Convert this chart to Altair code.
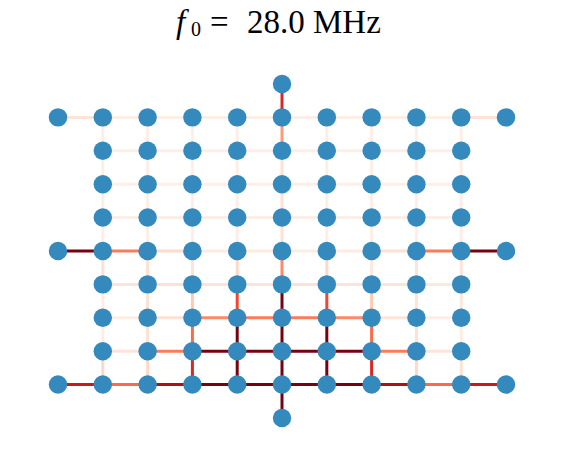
import altair as alt
import pandas as pd

# Grid nodes: (col, row)
full_rows = [1, 5, 9]
inner_rows = [2, 3, 4, 6, 7, 8]
cols_full = list(range(0, 11))
cols_inner = list(range(1, 10))
extra_nodes = [(5, 0), (5, 10)]

# Horizontal edge weights per row (left to right)
h_weights = {
    1: [0.10, 0.04, 0.04, 0.04, 0.04, 0.04, 0.04, 0.04, 0.04, 0.10],
    2: [0.04, 0.04, 0.04, 0.04, 0.04, 0.04, 0.04, 0.04],
    3: [0.04, 0.04, 0.04, 0.04, 0.04, 0.04, 0.04, 0.04],
    4: [0.04, 0.04, 0.04, 0.04, 0.04, 0.04, 0.04, 0.04],
    5: [0.97, 0.45, 0.14, 0.06, 0.06, 0.05, 0.06, 0.12, 0.45, 0.97],
    6: [0.10, 0.12, 0.10, 0.10, 0.12, 0.10, 0.10, 0.08],
    7: [0.05, 0.12, 0.40, 0.45, 0.45, 0.40, 0.10, 0.05],
    8: [0.10, 0.45, 0.97, 0.97, 0.97, 0.97, 0.45, 0.10],
    9: [0.75, 0.50, 0.85, 0.97, 0.97, 0.97, 0.97, 0.85, 0.50, 0.75],
}
# Vertical edge weights: key = upper row, values for cols 1..9
v_weights = {
    1: [0.04, 0.04, 0.04, 0.04, 0.35, 0.04, 0.04, 0.04, 0.04],
    2: [0.04, 0.04, 0.04, 0.04, 0.12, 0.04, 0.04, 0.04, 0.04],
    3: [0.04, 0.04, 0.04, 0.04, 0.12, 0.04, 0.04, 0.04, 0.04],
    4: [0.04, 0.04, 0.04, 0.04, 0.12, 0.04, 0.04, 0.04, 0.04],
    5: [0.12, 0.12, 0.10, 0.15, 0.40, 0.15, 0.08, 0.10, 0.10],
    6: [0.05, 0.12, 0.20, 0.60, 0.97, 0.60, 0.20, 0.10, 0.08],
    7: [0.05, 0.12, 0.50, 0.97, 0.97, 0.97, 0.50, 0.12, 0.05],
    8: [0.15, 0.15, 0.70, 0.97, 0.97, 0.97, 0.70, 0.15, 0.12],
}
stub_weights = {(0, 1): 0.70, (9, 10): 0.97}  # column 5 stubs

reds_stops = [0, 0.125, 0.25, 0.375, 0.5, 0.625, 0.75, 0.875, 1.0]
reds_colors = ["#fff5f0", "#fee0d2", "#fcbba1", "#fc9272", "#fb6a4a",
               "#ef3b2c", "#cb181d", "#a50f15", "#67000d"]

nodes = []
for r in full_rows:
    for c in cols_full:
        nodes.append({"c": c, "r": r})
for r in inner_rows:
    for c in cols_inner:
        nodes.append({"c": c, "r": r})
for c, r in extra_nodes:
    nodes.append({"c": c, "r": r})
nodes_df = pd.DataFrame(nodes)

edges = []
for r, ws in h_weights.items():
    start = 0 if r in full_rows else 1
    for i, w in enumerate(ws):
        c = start + i
        edges.append({"c": c, "r": r, "c2": c + 1, "r2": r, "w": w})
for r, ws in v_weights.items():
    for i, w in enumerate(ws):
        c = 1 + i
        edges.append({"c": c, "r": r, "c2": c, "r2": r + 1, "w": w})
for (r1, r2), w in stub_weights.items():
    edges.append({"c": 5, "r": r1, "c2": 5, "r2": r2, "w": w})
edges_df = pd.DataFrame(edges).sort_values("w")

xs = alt.Scale(domain=[-1.116, 11.071])
ys = alt.Scale(domain=[-2.275, 11.108], reverse=True)

edge_layer = alt.Chart(edges_df).mark_rule(strokeWidth=3).encode(
    x=alt.X("c:Q", scale=xs, axis=None),
    y=alt.Y("r:Q", scale=ys, axis=None),
    x2="c2:Q",
    y2="r2:Q",
    color=alt.Color("w:Q", scale=alt.Scale(type="linear", domain=reds_stops, range=reds_colors),
                    legend=None),
)

node_layer = alt.Chart(nodes_df).mark_circle(size=340, opacity=1, color="#348ABD").encode(
    x=alt.X("c:Q", scale=xs, axis=None),
    y=alt.Y("r:Q", scale=ys, axis=None),
)

title_df = pd.DataFrame({"t": ["f", "0", "=", "28.0 MHz"],
                         "px": [168, 183, 202, 239],
                         "py": [25, 28, 25, 25],
                         "fs": [33, 20, 33, 33],
                         "st": ["italic", "normal", "normal", "normal"]})

title_parts = []
for _, row in title_df.iterrows():
    title_parts.append(
        alt.Chart(pd.DataFrame({"t": [row["t"]]})).mark_text(
            align="left", baseline="alphabetic", font="Liberation Serif",
            fontSize=int(row["fs"]), fontStyle=row["st"], color="black"
        ).encode(text="t:N", x=alt.value(int(row["px"])), y=alt.value(int(row["py"])))
    )

chart = alt.layer(edge_layer, node_layer, *title_parts).properties(
    width=546, height=447, padding=0,
    autosize=alt.AutoSizeParams(type="none"),
).configure_view(strokeWidth=0)

chart.save("out.html", embed_options={"renderer": "svg", "actions": False})
